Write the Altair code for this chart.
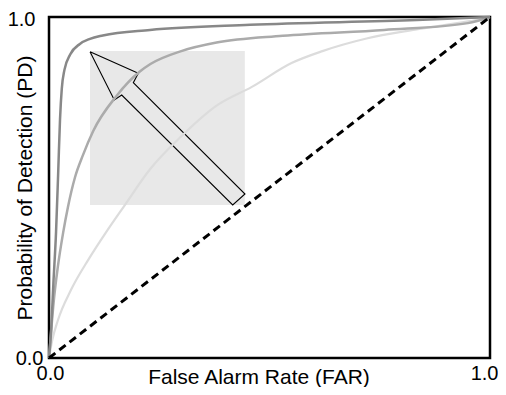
import altair as alt
import pandas as pd

# ROC curves (FAR, PD)
dark_x = [0, 0.0045, 0.010, 0.016, 0.021, 0.025, 0.029, 0.035, 0.048, 0.070, 0.093, 0.122, 0.229, 0.456, 0.834, 1.0]
dark_y = [0, 0.073, 0.22, 0.37, 0.55, 0.70, 0.79, 0.845, 0.89, 0.921, 0.936, 0.946, 0.962, 0.977, 0.991, 1.0]

mid_x = [0, 0.0045, 0.011, 0.020, 0.032, 0.043, 0.059, 0.077, 0.10, 0.154, 0.206, 0.23, 0.30, 0.38, 0.53, 0.76, 0.95, 1.0]
mid_y = [0, 0.073, 0.17, 0.267, 0.367, 0.443, 0.53, 0.595, 0.665, 0.77, 0.84, 0.862, 0.90, 0.925, 0.945, 0.962, 0.982, 1.0]

light_x = [0, 0.007, 0.02, 0.05, 0.09, 0.13, 0.17, 0.23, 0.30, 0.38, 0.46, 0.55, 0.62, 0.72, 0.83, 0.95, 1.0]
light_y = [0, 0.05, 0.11, 0.20, 0.29, 0.37, 0.445, 0.555, 0.65, 0.74, 0.795, 0.865, 0.90, 0.937, 0.963, 0.987, 1.0]

diag_x = [0, 1]
diag_y = [0, 1]

# shaded region
box_x = [0.093, 0.444]
box_y = [0.449, 0.900]

# arrow outline vertices
arrow_x = [0.093, 0.2025, 0.1912, 0.4444, 0.4166, 0.1649, 0.1481, 0.093]
arrow_y = [0.898, 0.8349, 0.8073, 0.4809, 0.4487, 0.7713, 0.7566, 0.898]

tick_values = [0, 1]

FONT = "Liberation Sans"
FS = 20
TFS = 21

xscale = alt.Scale(domain=[0, 1], nice=False, zero=False)
yscale = alt.Scale(domain=[0, 1], nice=False, zero=False)

xaxis = alt.Axis(values=tick_values, format=".1f", title="False Alarm Rate (FAR)",
                 grid=False, ticks=False, domain=False, labelFlush=False,
                 labelFontSize=FS, labelFont=FONT, labelColor="black", labelPadding=5,
                 labelAlign={"condition": {"test": "datum.value >= 1", "value": "right"}, "value": "center"},
                 labelOffset={"condition": {"test": "datum.value >= 1", "value": 8}, "value": 1},
                 titleFontSize=TFS, titleFont=FONT, titleFontWeight="normal", titleColor="black",
                 titleX=209.5, titleY=25, titleBaseline="alphabetic", titleAlign="center")
yaxis = alt.Axis(values=tick_values, format=".1f", title="Probability of Detection (PD)",
                 grid=False, ticks=False, domain=False, labelFlush=False,
                 labelFontSize=FS, labelFont=FONT, labelColor="black", labelBaseline="middle",
                 labelPadding={"condition": {"test": "datum.value >= 1", "value": 14}, "value": 6},
                 labelOffset={"condition": {"test": "datum.value >= 1", "value": 2}, "value": 0},
                 titleFontSize=TFS, titleFont=FONT, titleFontWeight="normal", titleColor="black",
                 titleX=-18, titleY=170.5, titleBaseline="alphabetic", titleAlign="center", titleAngle=-90)

box_df = pd.DataFrame({"x": [box_x[0]], "x2": [box_x[1]], "y": [box_y[0]], "y2": [box_y[1]]})
box = alt.Chart(box_df).mark_rect(color="#e8e8e8").encode(
    x=alt.X("x:Q", scale=xscale, axis=xaxis), x2="x2:Q",
    y=alt.Y("y:Q", scale=yscale, axis=yaxis), y2="y2:Q")

arrow_df = pd.DataFrame({"x": arrow_x, "y": arrow_y, "o": list(range(len(arrow_x)))})
arrow = alt.Chart(arrow_df).mark_line(color="black", strokeWidth=1.1, strokeJoin="miter").encode(
    x=alt.X("x:Q", scale=xscale), y=alt.Y("y:Q", scale=yscale), order="o:Q")

def curve(xs, ys, col, w):
    df = pd.DataFrame({"x": xs, "y": ys})
    return alt.Chart(df).mark_line(color=col, strokeWidth=w, interpolate="monotone").encode(
        x=alt.X("x:Q", scale=xscale), y=alt.Y("y:Q", scale=yscale))

light = curve(light_x, light_y, "#dcdcdc", 2.2)
mid = curve(mid_x, mid_y, "#ababab", 2.5)
dark = curve(dark_x, dark_y, "#888888", 2.5)

diag_df = pd.DataFrame({"x": diag_x, "y": diag_y})
diag = alt.Chart(diag_df).mark_line(color="black", strokeWidth=3, strokeDash=[8, 5]).encode(
    x=alt.X("x:Q", scale=xscale), y=alt.Y("y:Q", scale=yscale))

chart = alt.layer(box, arrow, light, mid, dark, diag).properties(
    width=441, height=341,
    padding={"left": 41, "top": 9, "right": 8, "bottom": 29},
    autosize=alt.AutoSizeParams(type="none"),
).configure_view(stroke="black", strokeWidth=2.5)

chart.save("out.html", embed_options={"renderer": "svg", "actions": False})
